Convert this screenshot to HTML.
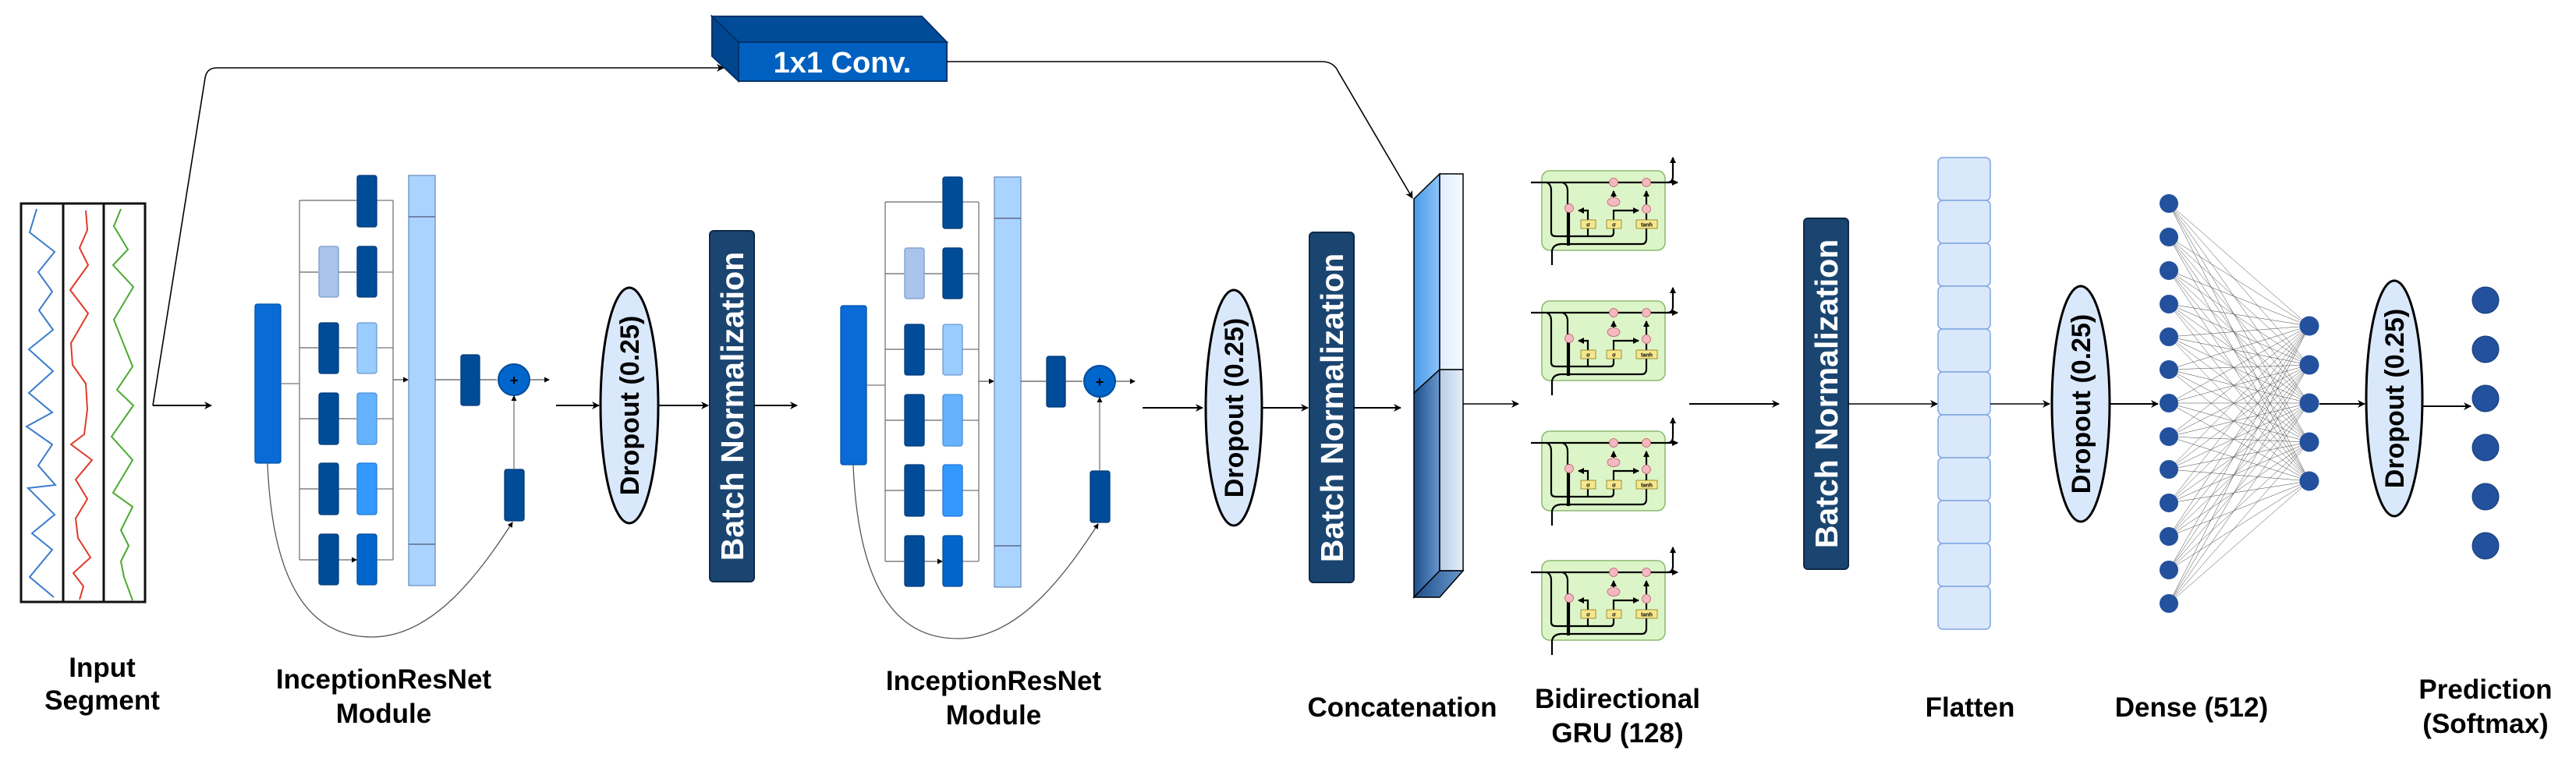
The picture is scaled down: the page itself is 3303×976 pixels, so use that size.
<!DOCTYPE html>
<html><head><meta charset="utf-8"><style>
html,body{margin:0;padding:0;background:#fff}
svg{display:block}
text{font-family:"Liberation Sans",Arial,sans-serif;font-weight:bold}
</style></head><body>
<svg width="3303" height="976" viewBox="0 0 3303 976" xmlns="http://www.w3.org/2000/svg">
<defs>
<marker id="a" markerWidth="10" markerHeight="10" refX="9" refY="5" orient="auto" markerUnits="userSpaceOnUse"><path d="M0 0L10 5L0 10L3 5Z" fill="#000"/></marker>
<marker id="s" markerWidth="7" markerHeight="7" refX="6" refY="3.5" orient="auto" markerUnits="userSpaceOnUse"><path d="M0 0L7 3.5L0 7Z" fill="#000"/></marker>
<marker id="g" markerWidth="8" markerHeight="8" refX="7" refY="4" orient="auto" markerUnits="userSpaceOnUse"><path d="M0 0L8 4L0 8Z" fill="#000"/></marker>
<linearGradient id="lf1" x1="0" y1="0" x2="1" y2="0"><stop offset="0" stop-color="#4a9be8"/><stop offset="1" stop-color="#8cc4f8"/></linearGradient>
<linearGradient id="lf2" x1="0" y1="0" x2="1" y2="0"><stop offset="0" stop-color="#1c4e8c"/><stop offset="1" stop-color="#6a98cc"/></linearGradient>
<linearGradient id="rf1" x1="0" y1="0" x2="1" y2="0"><stop offset="0" stop-color="#dcedff"/><stop offset="1" stop-color="#f6fbff"/></linearGradient>
<linearGradient id="rf2" x1="0" y1="0" x2="1" y2="0"><stop offset="0" stop-color="#b8cde6"/><stop offset="1" stop-color="#e6eef8"/></linearGradient>
</defs>

<!-- Input segment -->
<rect x="27" y="261" width="159" height="511" fill="#fff" stroke="#111" stroke-width="3"/>
<line x1="81" y1="261" x2="81" y2="772" stroke="#111" stroke-width="3"/>
<line x1="133" y1="261" x2="133" y2="772" stroke="#111" stroke-width="3"/>
<polyline fill="none" stroke="#3a7ccc" stroke-width="2" points="47,268 38,298 70,323 49,349 67,374 50,398 68,423 37,448 68,476 37,504 67,529 34,547 67,570 49,597 71,622 36,626 70,660 41,684 67,705 38,740 69,766"/>
<polyline fill="none" stroke="#e03a2a" stroke-width="2" points="110,270 112,295 102,318 113,340 90,372 113,402 91,440 93,468 110,492 112,525 108,557 91,570 118,590 97,615 112,640 97,665 100,690 116,715 94,735 107,752 102,769"/>
<polyline fill="none" stroke="#4aaa30" stroke-width="2" points="155,268 146,290 164,320 145,340 171,368 146,410 170,470 150,500 171,520 143,560 170,590 145,632 170,650 155,680 165,700 155,720 159,740 170,770"/>
<text x="131" y="868" font-size="35" text-anchor="middle">Input</text>
<text x="131" y="910" font-size="35" text-anchor="middle">Segment</text>

<!-- skip to 1x1 conv -->
<path d="M196 520 L263 100 Q265 87 278 87 H928" fill="none" stroke="#000" stroke-width="1.6" marker-end="url(#a)"/>
<line x1="196" y1="520" x2="271" y2="520" stroke="#000" stroke-width="2" marker-end="url(#a)"/>
<!-- 1x1 conv box -->
<polygon points="913,21 1182,21 1214,54 947,54" fill="#004c99" stroke="#00336b" stroke-width="2"/>
<polygon points="913,21 947,54 947,104 913,72" fill="#00468f" stroke="#00336b" stroke-width="2"/>
<rect x="947" y="54" width="267" height="50" fill="#0060c0" stroke="#00336b" stroke-width="2"/>
<text x="1080" y="93" font-size="38" fill="#fff" text-anchor="middle">1x1 Conv.</text>
<path d="M1214 79 H1695 Q1710 79 1716 92 L1811 254" fill="none" stroke="#000" stroke-width="1.6" marker-end="url(#a)"/>

<!-- Inception module 1 -->
<g id="m1" stroke-width="1.3">
<rect x="327" y="390" width="33" height="204" rx="3" fill="#0a6ad6" stroke="#0055aa"/>
<path d="M360 492 H384 M384 257 V718 M504 257 V718" stroke="#777" fill="none"/>
<path d="M384 257 H457 M384 349 H408 M434 349 H457 M384 446 H408 M434 446 H457 M384 537 H408 M434 537 H457 M384 627 H408 M434 627 H457 M384 718 H408 M434 718 H457" stroke="#666" fill="none" marker-end="url(#s)"/>
<path d="M483 257 H504 M483 349 H504 M483 446 H504 M483 537 H504 M483 627 H504 M483 718 H504" stroke="#777" fill="none"/>
<path d="M504 487 H523" stroke="#555" marker-end="url(#s)"/>
<rect x="458" y="225" width="25" height="66" rx="3" fill="#004c99" stroke="#003a78"/>
<rect x="409" y="316" width="25" height="65" rx="3" fill="#a9c4eb" stroke="#7a9ccc"/>
<rect x="458" y="316" width="25" height="65" rx="3" fill="#004c99" stroke="#003a78"/>
<rect x="409" y="414" width="25" height="65" rx="3" fill="#004c99" stroke="#003a78"/>
<rect x="458" y="414" width="25" height="65" rx="3" fill="#99ccff" stroke="#6c9cd0"/>
<rect x="409" y="504" width="25" height="66" rx="3" fill="#004c99" stroke="#003a78"/>
<rect x="458" y="504" width="25" height="66" rx="3" fill="#66b2ff" stroke="#4a8fd8"/>
<rect x="409" y="594" width="25" height="66" rx="3" fill="#004c99" stroke="#003a78"/>
<rect x="458" y="594" width="25" height="66" rx="3" fill="#3399ff" stroke="#2277dd"/>
<rect x="409" y="685" width="25" height="65" rx="3" fill="#004c99" stroke="#003a78"/>
<rect x="458" y="685" width="25" height="65" rx="3" fill="#0066cc" stroke="#004c99"/>
<rect x="524" y="225" width="34" height="526" fill="#aad4ff" stroke="#6c8ebf"/>
<path d="M524 278 H558 M524 698 H558" stroke="#557"/>
<path d="M558 487 H590 M615 487 H637 M679 487 H704" stroke="#555" fill="none" marker-end="url(#s)"/>
<rect x="591" y="455" width="24" height="65" rx="3" fill="#004c99" stroke="#003a78"/>
<circle cx="659" cy="487" r="20" fill="#0066cc" stroke="#004c99" stroke-width="2"/>
<text x="659" y="494" font-size="18" text-anchor="middle" fill="#000">+</text>
<rect x="647" y="602" width="25" height="66" rx="3" fill="#004c99" stroke="#003a78"/>
<path d="M659 602 V508" stroke="#777" marker-end="url(#s)"/>
<path d="M343 594 C350 770 410 817 477 817 C555 817 615 735 657 670" stroke="#555" fill="none" marker-end="url(#s)"/>
</g>
<text x="492" y="883" font-size="35" text-anchor="middle">InceptionResNet</text>
<text x="492" y="927" font-size="35" text-anchor="middle">Module</text>

<line x1="713" y1="520" x2="768" y2="520" stroke="#000" stroke-width="2" marker-end="url(#a)"/>
<ellipse cx="807" cy="520" rx="37" ry="151" fill="#dae8fc" stroke="#000" stroke-width="3"/>
<text transform="translate(819,520) rotate(-90)" font-size="34" text-anchor="middle">Dropout (0.25)</text>
<line x1="844" y1="520" x2="908" y2="520" stroke="#000" stroke-width="2" marker-end="url(#a)"/>
<rect x="910" y="296" width="57" height="450" rx="5" fill="#1a4571" stroke="#0e2a48" stroke-width="2"/>
<text transform="translate(953,521) rotate(-90)" font-size="41" fill="#fff" text-anchor="middle">Batch Normalization</text>
<line x1="967" y1="520" x2="1022" y2="520" stroke="#000" stroke-width="2" marker-end="url(#a)"/>

<!-- Inception module 2 -->
<g transform="translate(751,2)" stroke-width="1.3">
<rect x="327" y="390" width="33" height="204" rx="3" fill="#0a6ad6" stroke="#0055aa"/>
<path d="M360 492 H384 M384 257 V718 M504 257 V718" stroke="#777" fill="none"/>
<path d="M384 257 H457 M384 349 H408 M434 349 H457 M384 446 H408 M434 446 H457 M384 537 H408 M434 537 H457 M384 627 H408 M434 627 H457 M384 718 H408 M434 718 H457" stroke="#666" fill="none" marker-end="url(#s)"/>
<path d="M483 257 H504 M483 349 H504 M483 446 H504 M483 537 H504 M483 627 H504 M483 718 H504" stroke="#777" fill="none"/>
<path d="M504 487 H523" stroke="#555" marker-end="url(#s)"/>
<rect x="458" y="225" width="25" height="66" rx="3" fill="#004c99" stroke="#003a78"/>
<rect x="409" y="316" width="25" height="65" rx="3" fill="#a9c4eb" stroke="#7a9ccc"/>
<rect x="458" y="316" width="25" height="65" rx="3" fill="#004c99" stroke="#003a78"/>
<rect x="409" y="414" width="25" height="65" rx="3" fill="#004c99" stroke="#003a78"/>
<rect x="458" y="414" width="25" height="65" rx="3" fill="#99ccff" stroke="#6c9cd0"/>
<rect x="409" y="504" width="25" height="66" rx="3" fill="#004c99" stroke="#003a78"/>
<rect x="458" y="504" width="25" height="66" rx="3" fill="#66b2ff" stroke="#4a8fd8"/>
<rect x="409" y="594" width="25" height="66" rx="3" fill="#004c99" stroke="#003a78"/>
<rect x="458" y="594" width="25" height="66" rx="3" fill="#3399ff" stroke="#2277dd"/>
<rect x="409" y="685" width="25" height="65" rx="3" fill="#004c99" stroke="#003a78"/>
<rect x="458" y="685" width="25" height="65" rx="3" fill="#0066cc" stroke="#004c99"/>
<rect x="524" y="225" width="34" height="526" fill="#aad4ff" stroke="#6c8ebf"/>
<path d="M524 278 H558 M524 698 H558" stroke="#557"/>
<path d="M558 487 H590 M615 487 H637 M679 487 H704" stroke="#555" fill="none" marker-end="url(#s)"/>
<rect x="591" y="455" width="24" height="65" rx="3" fill="#004c99" stroke="#003a78"/>
<circle cx="659" cy="487" r="20" fill="#0066cc" stroke="#004c99" stroke-width="2"/>
<text x="659" y="494" font-size="18" text-anchor="middle" fill="#000">+</text>
<rect x="647" y="602" width="25" height="66" rx="3" fill="#004c99" stroke="#003a78"/>
<path d="M659 602 V508" stroke="#777" marker-end="url(#s)"/>
<path d="M343 594 C350 770 410 817 477 817 C555 817 615 735 657 670" stroke="#555" fill="none" marker-end="url(#s)"/>
</g>
<text x="1274" y="885" font-size="35" text-anchor="middle">InceptionResNet</text>
<text x="1274" y="929" font-size="35" text-anchor="middle">Module</text>

<line x1="1465" y1="523" x2="1542" y2="523" stroke="#000" stroke-width="2" marker-end="url(#a)"/>
<ellipse cx="1582" cy="523" rx="36" ry="151" fill="#dae8fc" stroke="#000" stroke-width="3"/>
<text transform="translate(1594,523) rotate(-90)" font-size="34" text-anchor="middle">Dropout (0.25)</text>
<line x1="1618" y1="523" x2="1677" y2="523" stroke="#000" stroke-width="2" marker-end="url(#a)"/>
<rect x="1679" y="298" width="57" height="449" rx="5" fill="#1a4571" stroke="#0e2a48" stroke-width="2"/>
<text transform="translate(1722,523) rotate(-90)" font-size="41" fill="#fff" text-anchor="middle">Batch Normalization</text>
<line x1="1736" y1="523" x2="1796" y2="523" stroke="#000" stroke-width="2" marker-end="url(#a)"/>

<!-- Concatenation block -->
<polygon points="1813,255 1846,223 1846,474 1813,504" fill="url(#lf1)" stroke="#000" stroke-width="1.5"/>
<polygon points="1813,504 1846,474 1846,732 1813,766" fill="url(#lf2)" stroke="#000" stroke-width="1.5"/>
<rect x="1846" y="223" width="30" height="251" fill="url(#rf1)" stroke="#000" stroke-width="1.5"/>
<rect x="1846" y="474" width="30" height="258" fill="url(#rf2)" stroke="#000" stroke-width="1.5"/>
<polygon points="1813,766 1846,766 1876,732 1846,732" fill="url(#lf2)" stroke="#000" stroke-width="1.5"/>
<text x="1798" y="919" font-size="35" text-anchor="middle">Concatenation</text>
<line x1="1876" y1="518" x2="1947" y2="518" stroke="#000" stroke-width="1.5" marker-end="url(#a)"/>

<!-- GRU cells -->
<g transform="translate(1955,190)">
<rect x="22" y="29" width="158" height="102" rx="10" fill="#dcf5c8" stroke="#8cb870" stroke-width="1.5"/>
<g fill="none" stroke="#000" stroke-width="2.2">
<path d="M8 44 H196" marker-end="url(#g)"/>
<path d="M183 44 Q190 44 190 36 V12" marker-end="url(#g)"/>
<path d="M28 44 Q34 46 34 55 V108 Q34 113 40 113 H110 Q114 113 114 108 V103 M81 113 V103"/>
<path d="M48 44 Q55 46 55 55 V125"/>
<path d="M35 150 V132 Q36 124 46 123 H150 Q156 123 156 116 V103"/>
<path d="M57 71 V125"/>
<path d="M81 92 V80 H69" marker-end="url(#g)"/>
<path d="M114 92 V80 H146" marker-end="url(#g)"/>
<path d="M114 63 V55" marker-end="url(#g)"/>
<path d="M156 72 V55" marker-end="url(#g)"/>
<path d="M156 92 V84"/>
</g>
<g fill="#f4b8c0" stroke="#c06070" stroke-width="0.8">
<circle cx="114" cy="44" r="5.5"/><circle cx="156" cy="44" r="5.5"/><circle cx="57" cy="77" r="5.5"/><circle cx="156" cy="78" r="5.5"/><ellipse cx="114" cy="69" rx="8" ry="5.5"/>
</g>
<g fill="#f6e68c" stroke="#8a7a20" stroke-width="0.8">
<rect x="72" y="92" width="19" height="11"/><rect x="105" y="92" width="19" height="11"/><rect x="143" y="92" width="27" height="11"/>
</g>
<g font-size="7" text-anchor="middle" font-weight="normal">
<text x="81.5" y="100.5">σ</text><text x="114.5" y="100.5">σ</text><text x="156.5" y="100.5">tanh</text>
</g>
</g>
<g transform="translate(1955,357)">
<rect x="22" y="29" width="158" height="102" rx="10" fill="#dcf5c8" stroke="#8cb870" stroke-width="1.5"/>
<g fill="none" stroke="#000" stroke-width="2.2">
<path d="M8 44 H196" marker-end="url(#g)"/>
<path d="M183 44 Q190 44 190 36 V12" marker-end="url(#g)"/>
<path d="M28 44 Q34 46 34 55 V108 Q34 113 40 113 H110 Q114 113 114 108 V103 M81 113 V103"/>
<path d="M48 44 Q55 46 55 55 V125"/>
<path d="M35 150 V132 Q36 124 46 123 H150 Q156 123 156 116 V103"/>
<path d="M57 71 V125"/>
<path d="M81 92 V80 H69" marker-end="url(#g)"/>
<path d="M114 92 V80 H146" marker-end="url(#g)"/>
<path d="M114 63 V55" marker-end="url(#g)"/>
<path d="M156 72 V55" marker-end="url(#g)"/>
<path d="M156 92 V84"/>
</g>
<g fill="#f4b8c0" stroke="#c06070" stroke-width="0.8">
<circle cx="114" cy="44" r="5.5"/><circle cx="156" cy="44" r="5.5"/><circle cx="57" cy="77" r="5.5"/><circle cx="156" cy="78" r="5.5"/><ellipse cx="114" cy="69" rx="8" ry="5.5"/>
</g>
<g fill="#f6e68c" stroke="#8a7a20" stroke-width="0.8">
<rect x="72" y="92" width="19" height="11"/><rect x="105" y="92" width="19" height="11"/><rect x="143" y="92" width="27" height="11"/>
</g>
<g font-size="7" text-anchor="middle" font-weight="normal">
<text x="81.5" y="100.5">σ</text><text x="114.5" y="100.5">σ</text><text x="156.5" y="100.5">tanh</text>
</g>
</g>
<g transform="translate(1955,524)">
<rect x="22" y="29" width="158" height="102" rx="10" fill="#dcf5c8" stroke="#8cb870" stroke-width="1.5"/>
<g fill="none" stroke="#000" stroke-width="2.2">
<path d="M8 44 H196" marker-end="url(#g)"/>
<path d="M183 44 Q190 44 190 36 V12" marker-end="url(#g)"/>
<path d="M28 44 Q34 46 34 55 V108 Q34 113 40 113 H110 Q114 113 114 108 V103 M81 113 V103"/>
<path d="M48 44 Q55 46 55 55 V125"/>
<path d="M35 150 V132 Q36 124 46 123 H150 Q156 123 156 116 V103"/>
<path d="M57 71 V125"/>
<path d="M81 92 V80 H69" marker-end="url(#g)"/>
<path d="M114 92 V80 H146" marker-end="url(#g)"/>
<path d="M114 63 V55" marker-end="url(#g)"/>
<path d="M156 72 V55" marker-end="url(#g)"/>
<path d="M156 92 V84"/>
</g>
<g fill="#f4b8c0" stroke="#c06070" stroke-width="0.8">
<circle cx="114" cy="44" r="5.5"/><circle cx="156" cy="44" r="5.5"/><circle cx="57" cy="77" r="5.5"/><circle cx="156" cy="78" r="5.5"/><ellipse cx="114" cy="69" rx="8" ry="5.5"/>
</g>
<g fill="#f6e68c" stroke="#8a7a20" stroke-width="0.8">
<rect x="72" y="92" width="19" height="11"/><rect x="105" y="92" width="19" height="11"/><rect x="143" y="92" width="27" height="11"/>
</g>
<g font-size="7" text-anchor="middle" font-weight="normal">
<text x="81.5" y="100.5">σ</text><text x="114.5" y="100.5">σ</text><text x="156.5" y="100.5">tanh</text>
</g>
</g>
<g transform="translate(1955,690)">
<rect x="22" y="29" width="158" height="102" rx="10" fill="#dcf5c8" stroke="#8cb870" stroke-width="1.5"/>
<g fill="none" stroke="#000" stroke-width="2.2">
<path d="M8 44 H196" marker-end="url(#g)"/>
<path d="M183 44 Q190 44 190 36 V12" marker-end="url(#g)"/>
<path d="M28 44 Q34 46 34 55 V108 Q34 113 40 113 H110 Q114 113 114 108 V103 M81 113 V103"/>
<path d="M48 44 Q55 46 55 55 V125"/>
<path d="M35 150 V132 Q36 124 46 123 H150 Q156 123 156 116 V103"/>
<path d="M57 71 V125"/>
<path d="M81 92 V80 H69" marker-end="url(#g)"/>
<path d="M114 92 V80 H146" marker-end="url(#g)"/>
<path d="M114 63 V55" marker-end="url(#g)"/>
<path d="M156 72 V55" marker-end="url(#g)"/>
<path d="M156 92 V84"/>
</g>
<g fill="#f4b8c0" stroke="#c06070" stroke-width="0.8">
<circle cx="114" cy="44" r="5.5"/><circle cx="156" cy="44" r="5.5"/><circle cx="57" cy="77" r="5.5"/><circle cx="156" cy="78" r="5.5"/><ellipse cx="114" cy="69" rx="8" ry="5.5"/>
</g>
<g fill="#f6e68c" stroke="#8a7a20" stroke-width="0.8">
<rect x="72" y="92" width="19" height="11"/><rect x="105" y="92" width="19" height="11"/><rect x="143" y="92" width="27" height="11"/>
</g>
<g font-size="7" text-anchor="middle" font-weight="normal">
<text x="81.5" y="100.5">σ</text><text x="114.5" y="100.5">σ</text><text x="156.5" y="100.5">tanh</text>
</g>
</g>
<text x="2074" y="908" font-size="35" text-anchor="middle">Bidirectional</text>
<text x="2074" y="952" font-size="35" text-anchor="middle">GRU (128)</text>

<line x1="2166" y1="518" x2="2281" y2="518" stroke="#000" stroke-width="2" marker-end="url(#a)"/>
<rect x="2313" y="280" width="57" height="450" rx="5" fill="#1a4571" stroke="#0e2a48" stroke-width="2"/>
<text transform="translate(2356,505) rotate(-90)" font-size="41" fill="#fff" text-anchor="middle">Batch Normalization</text>
<line x1="2370" y1="518" x2="2484" y2="518" stroke="#000" stroke-width="1.5" marker-end="url(#a)"/>

<!-- Flatten -->
<g fill="#dae8fc" stroke="#7ea6e0" stroke-width="1.5">
<rect x="2485" y="202" width="67" height="55" rx="6"/><rect x="2485" y="257" width="67" height="55" rx="6"/>
<rect x="2485" y="312" width="67" height="55" rx="6"/><rect x="2485" y="367" width="67" height="55" rx="6"/>
<rect x="2485" y="422" width="67" height="55" rx="6"/><rect x="2485" y="477" width="67" height="55" rx="6"/>
<rect x="2485" y="532" width="67" height="55" rx="6"/><rect x="2485" y="587" width="67" height="55" rx="6"/>
<rect x="2485" y="642" width="67" height="55" rx="6"/><rect x="2485" y="697" width="67" height="55" rx="6"/>
<rect x="2485" y="752" width="67" height="55" rx="6"/>
</g>
<text x="2526" y="919" font-size="35" text-anchor="middle">Flatten</text>
<line x1="2552" y1="518" x2="2628" y2="518" stroke="#000" stroke-width="1.5" marker-end="url(#a)"/>
<ellipse cx="2668" cy="518" rx="37" ry="151" fill="#dae8fc" stroke="#000" stroke-width="3"/>
<text transform="translate(2680,518) rotate(-90)" font-size="34" text-anchor="middle">Dropout (0.25)</text>
<line x1="2706" y1="518" x2="2767" y2="518" stroke="#000" stroke-width="2" marker-end="url(#a)"/>

<!-- Dense -->
<g stroke="#444" stroke-width="0.5" fill="none">
<path d="M2781 261L2961 418M2781 261L2961 468M2781 261L2961 517M2781 261L2961 567M2781 261L2961 617
M2781 304L2961 418M2781 304L2961 468M2781 304L2961 517M2781 304L2961 567M2781 304L2961 617
M2781 347L2961 418M2781 347L2961 468M2781 347L2961 517M2781 347L2961 567M2781 347L2961 617
M2781 390L2961 418M2781 390L2961 468M2781 390L2961 517M2781 390L2961 567M2781 390L2961 617
M2781 432L2961 418M2781 432L2961 468M2781 432L2961 517M2781 432L2961 567M2781 432L2961 617
M2781 474L2961 418M2781 474L2961 468M2781 474L2961 517M2781 474L2961 567M2781 474L2961 617
M2781 517L2961 418M2781 517L2961 468M2781 517L2961 517M2781 517L2961 567M2781 517L2961 617
M2781 560L2961 418M2781 560L2961 468M2781 560L2961 517M2781 560L2961 567M2781 560L2961 617
M2781 602L2961 418M2781 602L2961 468M2781 602L2961 517M2781 602L2961 567M2781 602L2961 617
M2781 645L2961 418M2781 645L2961 468M2781 645L2961 517M2781 645L2961 567M2781 645L2961 617
M2781 688L2961 418M2781 688L2961 468M2781 688L2961 517M2781 688L2961 567M2781 688L2961 617
M2781 731L2961 418M2781 731L2961 468M2781 731L2961 517M2781 731L2961 567M2781 731L2961 617
M2781 774L2961 418M2781 774L2961 468M2781 774L2961 517M2781 774L2961 567M2781 774L2961 617"/>
</g>
<g fill="#23519d">
<circle cx="2781" cy="261" r="12"/><circle cx="2781" cy="304" r="12"/><circle cx="2781" cy="347" r="12"/>
<circle cx="2781" cy="390" r="12"/><circle cx="2781" cy="432" r="12"/><circle cx="2781" cy="474" r="12"/>
<circle cx="2781" cy="517" r="12"/><circle cx="2781" cy="560" r="12"/><circle cx="2781" cy="602" r="12"/>
<circle cx="2781" cy="645" r="12"/><circle cx="2781" cy="688" r="12"/><circle cx="2781" cy="731" r="12"/>
<circle cx="2781" cy="774" r="12"/>
<circle cx="2961" cy="418" r="12.5"/><circle cx="2961" cy="468" r="12.5"/><circle cx="2961" cy="517" r="12.5"/>
<circle cx="2961" cy="567" r="12.5"/><circle cx="2961" cy="617" r="12.5"/>
</g>
<text x="2810" y="919" font-size="35" text-anchor="middle">Dense (512)</text>
<line x1="2974" y1="518" x2="3032" y2="518" stroke="#000" stroke-width="2" marker-end="url(#a)"/>
<ellipse cx="3070" cy="511" rx="36" ry="151" fill="#dae8fc" stroke="#000" stroke-width="3"/>
<text transform="translate(3082,511) rotate(-90)" font-size="34" text-anchor="middle">Dropout (0.25)</text>
<line x1="3106" y1="521" x2="3168" y2="521" stroke="#000" stroke-width="2" marker-end="url(#a)"/>
<g fill="#23519d" stroke="#163a78" stroke-width="1">
<circle cx="3187" cy="385" r="17"/><circle cx="3187" cy="448" r="17"/><circle cx="3187" cy="511" r="17"/>
<circle cx="3187" cy="574" r="17"/><circle cx="3187" cy="637" r="17"/><circle cx="3187" cy="700" r="17"/>
</g>
<text x="3187" y="896" font-size="35" text-anchor="middle">Prediction</text>
<text x="3187" y="940" font-size="35" text-anchor="middle">(Softmax)</text>
</svg>
</body></html>
